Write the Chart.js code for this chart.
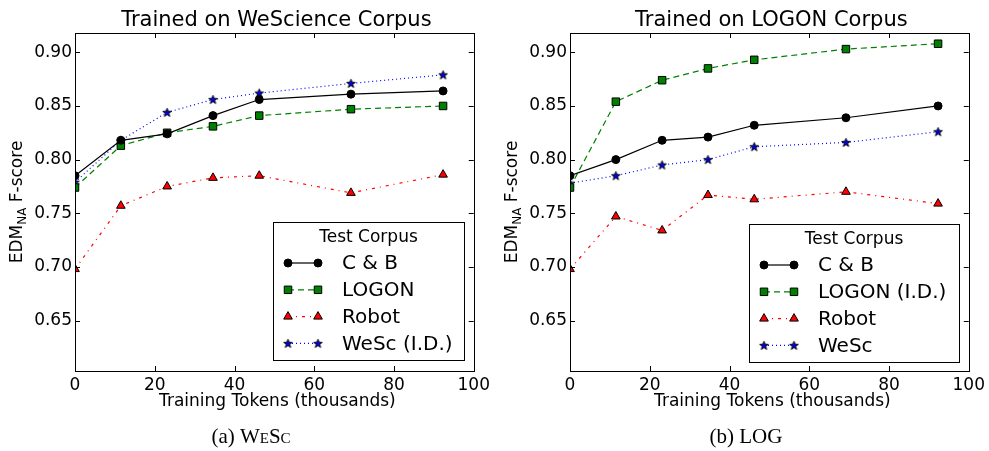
<!DOCTYPE html>
<html>
<head>
<meta charset="utf-8">
<script src="https://cdn.jsdelivr.net/npm/chart.js@4.4.1/dist/chart.umd.min.js"></script>
<style>
  body { margin: 0; background: #fff; }
  canvas { position: absolute; top: 0; }
</style>
</head>
<body>
<canvas id="graficoWesc" width="494" height="451" style="left:0px"></canvas>
<canvas id="graficoLog" width="494" height="451" style="left:495px"></canvas>
<script>
const tokens = [0, 11.5, 23.1, 34.6, 46.2, 69.2, 92.3]
const xTicks = [0, 20, 40, 60, 80, 100]
const yTicks = [0.65, 0.70, 0.75, 0.80, 0.85, 0.90]

const wescCB = [0.785, 0.818, 0.824, 0.841, 0.856, 0.861, 0.864]
const wescLogon = [0.774, 0.813, 0.825, 0.831, 0.841, 0.847, 0.850]
const wescRobot = [0.698, 0.757, 0.775, 0.783, 0.785, 0.769, 0.786]
const wescWesc = [0.779, 0.818, 0.844, 0.856, 0.862, 0.871, 0.879]

const logCB = [0.785, 0.800, 0.818, 0.821, 0.832, 0.839, 0.850]
const logLogon = [0.774, 0.854, 0.874, 0.885, 0.893, 0.903, 0.908]
const logRobot = [0.698, 0.747, 0.734, 0.767, 0.763, 0.770, 0.759]
const logWesc = [0.778, 0.785, 0.795, 0.800, 0.812, 0.816, 0.826]

const FONTE = "'DejaVu Sans', sans-serif"
const SERIFA = '"Liberation Serif", serif'

function fazEstrela() {
    let c = document.createElement('canvas')
    c.width = 11
    c.height = 11
    let ctx = c.getContext('2d')
    ctx.beginPath()
    for (let i = 0; i < 10; i++) {
        let r = i % 2 === 0 ? 4.6 : 1.9
        let a = -Math.PI / 2 + i * Math.PI / 5
        let px = 5.5 + r * Math.cos(a)
        let py = 5.8 + r * Math.sin(a)
        if (i === 0) ctx.moveTo(px, py)
        else ctx.lineTo(px, py)
    }
    ctx.closePath()
    ctx.fillStyle = '#0000e0'
    ctx.fill()
    ctx.lineWidth = 0.9
    ctx.strokeStyle = '#000'
    ctx.stroke()
    return c
}

const estrela = fazEstrela()

function serie(label, valores, cor, dash, ponto, raio, fundo) {
    return {
        label: label,
        data: tokens.map((t, i) => ({ x: t, y: valores[i] })),
        borderColor: cor,
        borderWidth: 1.2,
        borderDash: dash,
        pointStyle: ponto,
        pointRadius: raio,
        pointBackgroundColor: fundo,
        pointBorderColor: '#000',
        pointBorderWidth: 1,
        tension: 0,
        clip: 0
    }
}

function desenhaMarcador(ctx, ds, x, y) {
    if (ds.pointStyle instanceof HTMLCanvasElement) {
        ctx.drawImage(ds.pointStyle, x - ds.pointStyle.width / 2, y - ds.pointStyle.height / 2)
        return
    }
    Chart.helpers.drawPoint(ctx, {
        pointStyle: ds.pointStyle,
        radius: ds.pointRadius,
        borderWidth: 1,
        rotation: 0
    }, x, y)
}

const molduraPlugin = {
    id: 'moldura',
    afterDatasetsDraw(chart, args, opts) {
        const ctx = chart.ctx
        const a = chart.chartArea
        const xs = chart.scales.x
        const ys = chart.scales.y
        ctx.save()
        ctx.strokeStyle = '#000'
        ctx.lineWidth = 1
        ctx.strokeRect(Math.round(a.left) + 0.5, Math.round(a.top) + 0.5, Math.round(a.right - a.left), Math.round(a.bottom - a.top))
        ctx.beginPath()
        xTicks.forEach(v => {
            let px = Math.round(xs.getPixelForValue(v)) + 0.5
            ctx.moveTo(px, a.bottom); ctx.lineTo(px, a.bottom - 5)
            ctx.moveTo(px, a.top); ctx.lineTo(px, a.top + 5)
        })
        yTicks.forEach(v => {
            let py = Math.round(ys.getPixelForValue(v)) + 0.5
            ctx.moveTo(a.left, py); ctx.lineTo(a.left + 5, py)
            ctx.moveTo(a.right, py); ctx.lineTo(a.right - 5, py)
        })
        ctx.stroke()

        // titulo
        ctx.fillStyle = '#000'
        ctx.textAlign = 'center'
        ctx.textBaseline = 'middle'
        ctx.font = '21px ' + FONTE
        ctx.fillText(opts.titulo, (a.left + a.right) / 2 + 2, 21)

        // eixo x
        ctx.font = '17px ' + FONTE
        ctx.fillText('Training Tokens (thousands)', (a.left + a.right) / 2 + 3, 402)

        // eixo y com subscrito
        ctx.save()
        ctx.translate(18, (a.top + a.bottom) / 2)
        ctx.rotate(-Math.PI / 2)
        ctx.textAlign = 'left'
        ctx.font = '17px ' + FONTE
        let w1 = ctx.measureText('EDM').width
        let w3 = ctx.measureText(' F-score').width
        ctx.font = '12px ' + FONTE
        let w2 = ctx.measureText('NA').width
        let x0 = -(w1 + w2 + w3) / 2
        ctx.font = '17px ' + FONTE
        ctx.fillText('EDM', x0, 0)
        ctx.font = '12px ' + FONTE
        ctx.fillText('NA', x0 + w1, 5)
        ctx.font = '17px ' + FONTE
        ctx.fillText(' F-score', x0 + w1 + w2, 0)
        ctx.restore()

        // legenda
        const lg = opts.legenda
        ctx.fillStyle = '#fff'
        ctx.fillRect(lg.left, lg.top, lg.width, 138)
        ctx.strokeStyle = '#000'
        ctx.strokeRect(lg.left + 0.5, lg.top + 0.5, lg.width, 138)
        ctx.fillStyle = '#000'
        ctx.textAlign = 'center'
        ctx.font = '17px ' + FONTE
        ctx.fillText('Test Corpus', lg.left + lg.width / 2, lg.top + 16)
        chart.data.datasets.forEach((ds, i) => {
            let y = lg.top + 41 + i * 26.8
            let x1 = lg.left + 15
            let x2 = x1 + 30
            ctx.save()
            ctx.strokeStyle = ds.borderColor
            ctx.lineWidth = ds.borderWidth
            ctx.setLineDash(ds.borderDash)
            ctx.beginPath()
            ctx.moveTo(x1, y); ctx.lineTo(x2, y)
            ctx.stroke()
            ctx.restore()
            ctx.save()
            ctx.fillStyle = ds.pointBackgroundColor
            ctx.strokeStyle = '#000'
            ctx.lineWidth = 1
            desenhaMarcador(ctx, ds, x1, y)
            desenhaMarcador(ctx, ds, x2, y)
            ctx.restore()
            ctx.fillStyle = '#000'
            ctx.textAlign = 'left'
            ctx.font = '20px ' + FONTE
            ctx.fillText(ds.label, lg.textX, y + 1)
        })

        // rotulo abaixo: parte normal + parte em versalete
        ctx.textAlign = 'left'
        ctx.font = '21px ' + SERIFA
        let wa = ctx.measureText(opts.rotulo[0]).width
        ctx.font = opts.rotulo[2] + '21px ' + SERIFA
        let wb = ctx.measureText(opts.rotulo[1]).width
        let xr = 251 - (wa + wb) / 2
        ctx.font = '21px ' + SERIFA
        ctx.fillText(opts.rotulo[0], xr, 437)
        ctx.font = opts.rotulo[2] + '21px ' + SERIFA
        ctx.fillText(opts.rotulo[1], xr + wa, 437)
        ctx.restore()
    }
}

function criaGrafico(id, datasets, titulo, legenda, rotulo) {
    return new Chart(document.getElementById(id), {
        type: 'line',
        data: { datasets: datasets },
        options: {
            responsive: false,
            animation: false,
            devicePixelRatio: 1,
            layout: { padding: { left: 0, right: 19, top: 33, bottom: 0 } },
            scales: {
                x: {
                    type: 'linear',
                    min: 0,
                    max: 100,
                    afterFit: s => { s.height = 80 },
                    afterBuildTicks: s => { s.ticks = xTicks.map(v => ({ value: v })) },
                    grid: { display: false, drawTicks: false },
                    border: { display: false },
                    ticks: { color: '#000', padding: 4, font: { family: FONTE, size: 17 }, maxRotation: 0 }
                },
                y: {
                    min: 0.603,
                    max: 0.918,
                    afterFit: s => { s.width = 75 },
                    afterBuildTicks: s => { s.ticks = yTicks.map(v => ({ value: v })) },
                    grid: { display: false, drawTicks: false },
                    border: { display: false },
                    ticks: { color: '#000', padding: 3, font: { family: FONTE, size: 17 }, callback: v => v.toFixed(2) }
                }
            },
            plugins: {
                legend: { display: false },
                title: { display: false },
                tooltip: { enabled: false },
                moldura: { titulo: titulo, legenda: legenda, rotulo: rotulo }
            }
        },
        plugins: [molduraPlugin]
    })
}

const graficoWesc = criaGrafico('graficoWesc', [
    serie('C & B', wescCB, '#000000', [], 'circle', 4, '#000'),
    serie('LOGON', wescLogon, '#008000', [6, 4], 'rect', 5.3, '#008000'),
    serie('Robot', wescRobot, '#ff0000', [3, 5, 1, 5], 'triangle', 5, '#ff0000'),
    serie('WeSc (I.D.)', wescWesc, '#0000ff', [1, 3], estrela, 5, '#0000ff')
], 'Trained on WeScience Corpus', { left: 273, top: 222, width: 191, textX: 342 }, ['(a) ', 'WeSc', 'small-caps '])

const graficoLog = criaGrafico('graficoLog', [
    serie('C & B', logCB, '#000000', [], 'circle', 4, '#000'),
    serie('LOGON (I.D.)', logLogon, '#008000', [6, 4], 'rect', 5.3, '#008000'),
    serie('Robot', logRobot, '#ff0000', [3, 5, 1, 5], 'triangle', 5, '#ff0000'),
    serie('WeSc', logWesc, '#0000ff', [1, 3], estrela, 5, '#0000ff')
], 'Trained on LOGON Corpus', { left: 254, top: 224, width: 210, textX: 323 }, ['(b) ', 'LOG', ''])
</script>
</body>
</html>
